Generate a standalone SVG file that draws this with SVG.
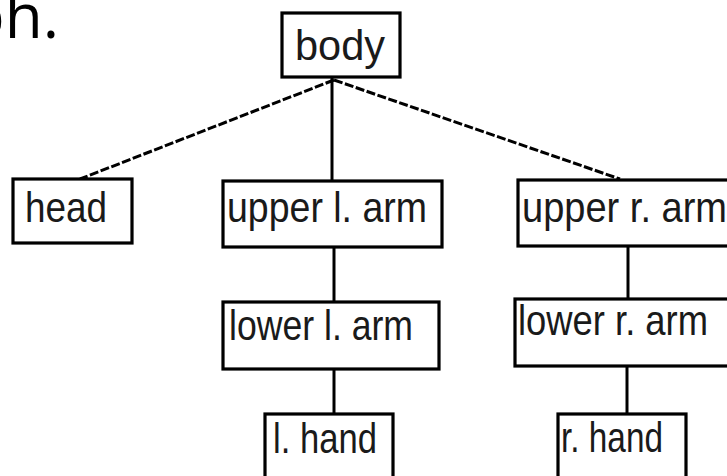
<svg xmlns="http://www.w3.org/2000/svg" width="727" height="476" viewBox="0 0 727 476">
<style>
.box{fill:#fff;stroke:#000;stroke-width:3.2}
.lbl{font-family:"Liberation Sans",Arial,sans-serif;font-size:42px;fill:#1a1a1a}
.edge{stroke:#000;stroke-width:3;fill:none}
.diag{stroke-dasharray:9 2.5}
.big{font-family:"Open Sans","Noto Sans",sans-serif;font-size:62px;fill:#000}
</style>
<rect width="727" height="476" fill="#fff"/>
<text class="big" x="59" y="38" text-anchor="end">ph.</text>
<g id="connectors">
<line class="edge diag" x1="334" y1="80" x2="80" y2="179"/>
<line class="edge diag" x1="334" y1="80" x2="620" y2="179"/>
<line class="edge" x1="332" y1="77" x2="332" y2="181"/>
<line class="edge" x1="334" y1="247" x2="334" y2="302"/>
<line class="edge" x1="334" y1="369" x2="334" y2="414"/>
<line class="edge" x1="628" y1="246" x2="628" y2="299"/>
<line class="edge" x1="627" y1="366" x2="627" y2="414"/>
</g>
<g id="body">
<rect class="box" x="282" y="13" width="118" height="64"/>
<text class="lbl" x="295" y="60" textLength="90" lengthAdjust="spacingAndGlyphs">body</text>
</g>
<g id="head">
<rect class="box" x="13" y="179" width="119" height="64"/>
<text class="lbl" x="25" y="222" textLength="82" lengthAdjust="spacingAndGlyphs">head</text>
</g>
<g id="upper-l-arm">
<rect class="box" x="223" y="181" width="219" height="66"/>
<text class="lbl" x="227" y="222" textLength="200" lengthAdjust="spacingAndGlyphs">upper l. arm</text>
</g>
<g id="upper-r-arm">
<rect class="box" x="518" y="180" width="220" height="66"/>
<text class="lbl" x="522" y="222" textLength="205" lengthAdjust="spacingAndGlyphs">upper r. arm</text>
</g>
<g id="lower-l-arm">
<rect class="box" x="223" y="302" width="216" height="67"/>
<text class="lbl" x="229" y="340" textLength="184" lengthAdjust="spacingAndGlyphs">lower l. arm</text>
</g>
<g id="lower-r-arm">
<rect class="box" x="515" y="299" width="220" height="67"/>
<text class="lbl" x="518" y="335" textLength="190" lengthAdjust="spacingAndGlyphs">lower r. arm</text>
</g>
<g id="l-hand">
<rect class="box" x="265" y="414" width="128" height="70"/>
<text class="lbl" x="273" y="453" textLength="104" lengthAdjust="spacingAndGlyphs">l. hand</text>
</g>
<g id="r-hand">
<rect class="box" x="558" y="414" width="128" height="70"/>
<text class="lbl" x="561" y="452" textLength="102" lengthAdjust="spacingAndGlyphs">r. hand</text>
</g>
</svg>
